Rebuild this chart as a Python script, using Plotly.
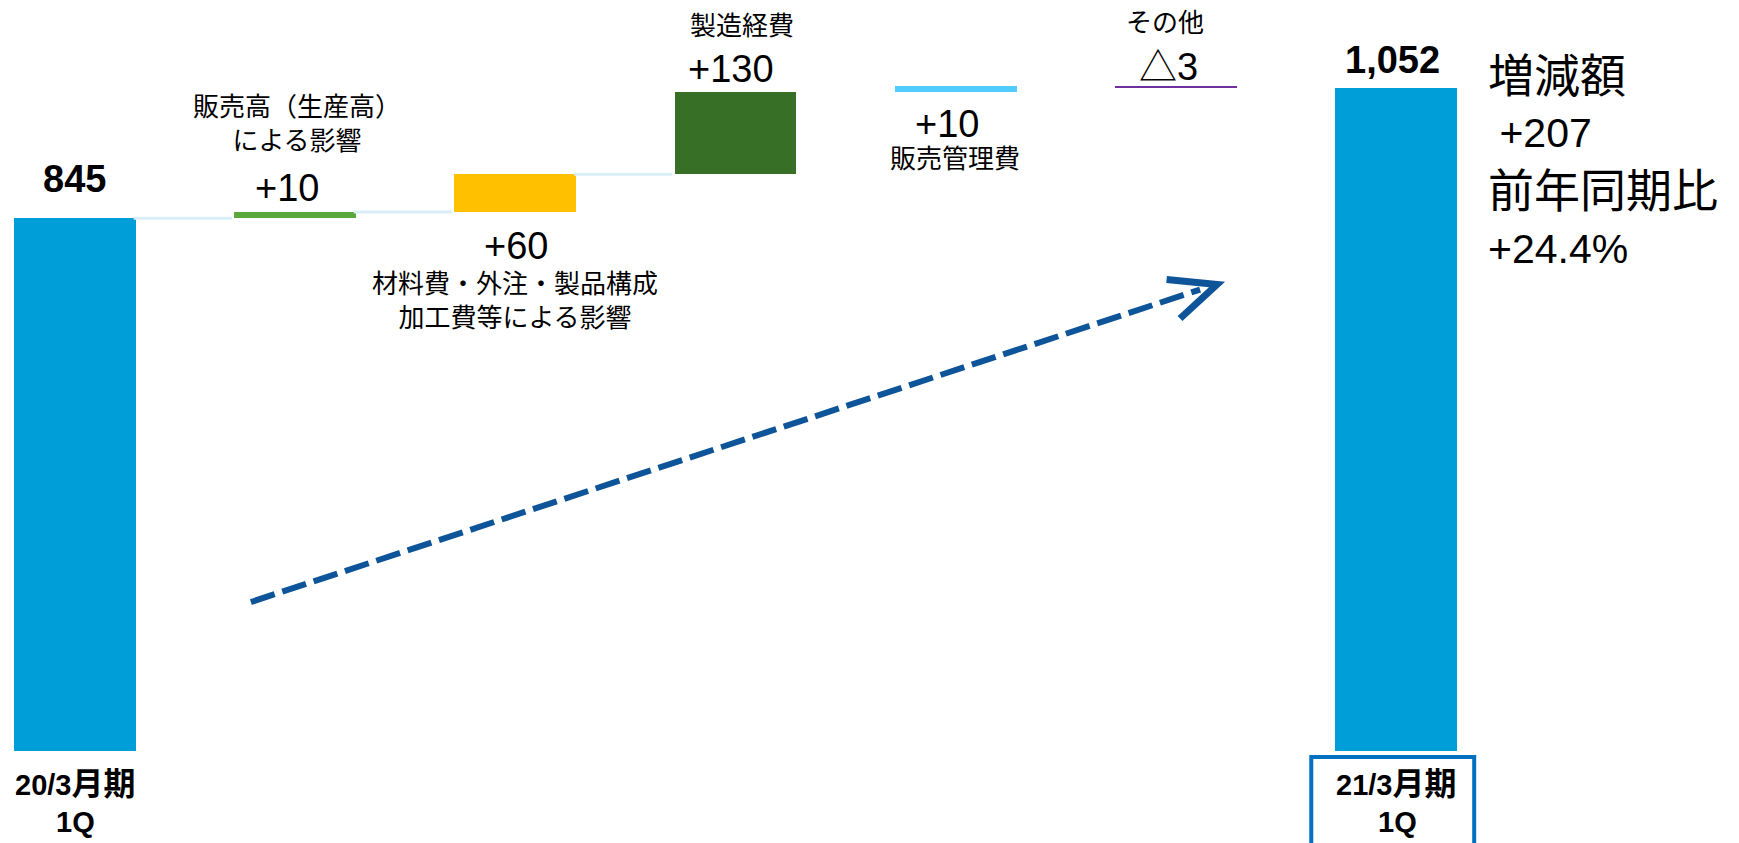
import plotly.graph_objects as go

# ---- data -------------------------------------------------------------
categories = [
    "20/3月期 1Q",
    "販売高（生産高）による影響",
    "材料費・外注・製品構成・加工費等による影響",
    "製造経費",
    "販売管理費",
    "その他",
    "21/3月期 1Q",
]
start_value = 845
deltas = [10, 60, 130, 10, -3]
end_value = 1052
value_labels = ["845", "+10", "+60", "+130", "+10", "△3", "1,052"]
desc_labels = [
    None,
    "販売高（生産高）<br>による影響",
    "材料費・外注・製品構成<br>加工費等による影響",
    "製造経費",
    "販売管理費",
    "その他",
    None,
]
period_labels = [("20/3", "月期", "1Q"), ("21/3", "月期", "1Q")]
summary_lines = ["増減額", "\u00a0+207", "前年同期比", "+24.4%"]

# ---- styles -----------------------------------------------------------
bar_colors = ["#009ED9", "#58A83B", "#FFC000", "#386F27", "#50CCFF", "#7030A0", "#009ED9"]
connector_color = "#DAEEF7"
arrow_color = "#0E5499"
FONT = "Liberation Sans, Noto Sans CJK JP, sans-serif"
BAR_W = 0.553

# label side and pixel offsets: (side, value dx, value dy, desc dx, desc dy)
label_layout = [
    ("top", 0, 39, 0, 0),
    ("top", -8, 24, 2, 88),
    ("bottom", 1, -34, 0, -89),
    ("top", -5, 23, 6, 66),
    ("bottom", -9, -32, -1, -67),
    ("top", -7, 19, -11, 63),
    ("top", -4, 28, 0, 0),
]
bold_values = {0, 6}

# ---- waterfall geometry from the values -------------------------------
bases, heights, ends = [0], [start_value], [start_value]
cum = start_value
for d in deltas:
    bases.append(cum)
    heights.append(d)
    cum += d
    ends.append(cum)
bases.append(0)
heights.append(end_value)
ends.append(end_value)
xs = list(range(len(categories)))

fig = go.Figure()
fig.add_trace(go.Bar(
    x=xs, y=heights, base=bases, width=BAR_W,
    marker=dict(color=bar_colors, line=dict(width=0)),
    hoverinfo="skip", showlegend=False,
))

# connectors between the first steps
for i in [0, 1, 2]:
    fig.add_trace(go.Scatter(
        x=[i + BAR_W / 2 - 0.01, i + 1 - BAR_W / 2 - 0.01], y=[ends[i], ends[i]],
        mode="lines", line=dict(color=connector_color, width=3),
        hoverinfo="skip", showlegend=False,
    ))

# value and description labels
for i, (side, vdx, vdy, ddx, ddy) in enumerate(label_layout):
    lo, hi = sorted([bases[i], bases[i] + heights[i]])
    anchor_y = hi if side == "top" else lo
    fig.add_annotation(
        x=i, y=anchor_y, xref="x", yref="y", text=value_labels[i],
        showarrow=False, xanchor="center", yanchor="middle",
        xshift=vdx, yshift=vdy,
        font=dict(family=FONT, size=38, color="#000",
                  weight="bold" if i in bold_values else "normal"),
    )
    if desc_labels[i]:
        fig.add_annotation(
            x=i, y=anchor_y, xref="x", yref="y", text=desc_labels[i],
            showarrow=False, xanchor="center", yanchor="middle",
            xshift=ddx, yshift=ddy,
            font=dict(family=FONT, size=26, color="#000"),
        )

# period labels under the two total bars
for idx, (num, unit, quarter) in zip([0, len(categories) - 1], period_labels):
    fig.add_annotation(
        x=idx, y=0, xref="x", yref="y",
        text=f"{num}<span style='font-size:32px'>{unit}</span>",
        showarrow=False, xanchor="center", yanchor="middle", xshift=0, yshift=-33,
        font=dict(family=FONT, size=29, color="#000", weight="bold"),
    )
    fig.add_annotation(
        x=idx, y=0, xref="x", yref="y", text=quarter, showarrow=False,
        xanchor="center", yanchor="middle", xshift=1, yshift=-71,
        font=dict(family=FONT, size=29, color="#000", weight="bold"),
    )

# frame around the current period label
last = len(categories) - 1
fig.add_shape(type="rect", xref="x", yref="y",
              x0=last - 0.385, x1=last + 0.355, y0=-10, y1=-175,
              line=dict(color="#0070C0", width=4), fillcolor="rgba(0,0,0,0)")

# summary block to the right
for text, py, size in zip(summary_lines, [76, 133, 191, 249], [46, 41, 46, 41]):
    fig.add_annotation(
        x=1486 / 1739, y=1 - py / 843, xref="paper", yref="paper", text=text,
        showarrow=False, xanchor="left", yanchor="middle",
        font=dict(family=FONT, size=size, color="#000"),
    )

# dashed trend arrow
arrow_start = (0.799, 236)
arrow_shaft_end = (5.11, 732)
arrow_tip = (5.187, 740)
arrow_arm_a = (4.958, 748)
arrow_arm_b = (5.019, 686)
fig.add_shape(type="line", xref="x", yref="y",
              x0=arrow_start[0], y0=arrow_start[1],
              x1=arrow_shaft_end[0], y1=arrow_shaft_end[1],
              line=dict(color=arrow_color, width=6, dash="25px,8px"))
fig.add_shape(type="path", xref="x", yref="y",
              path=f"M {arrow_arm_a[0]},{arrow_arm_a[1]} L {arrow_tip[0]},{arrow_tip[1]} "
                   f"L {arrow_arm_b[0]},{arrow_arm_b[1]}",
              line=dict(color=arrow_color, width=7), fillcolor="rgba(0,0,0,0)")

fig.update_layout(
    width=1739, height=843,
    margin=dict(l=0, r=0, t=0, b=0),
    paper_bgcolor="white", plot_bgcolor="white",
    xaxis=dict(range=[-0.3406, 7.5577], visible=False, fixedrange=True),
    yaxis=dict(range=[-146.5, 1191.6], visible=False, fixedrange=True),
    bargap=0, showlegend=False,
)

fig.write_html("out.html", config={"displayModeBar": False})
